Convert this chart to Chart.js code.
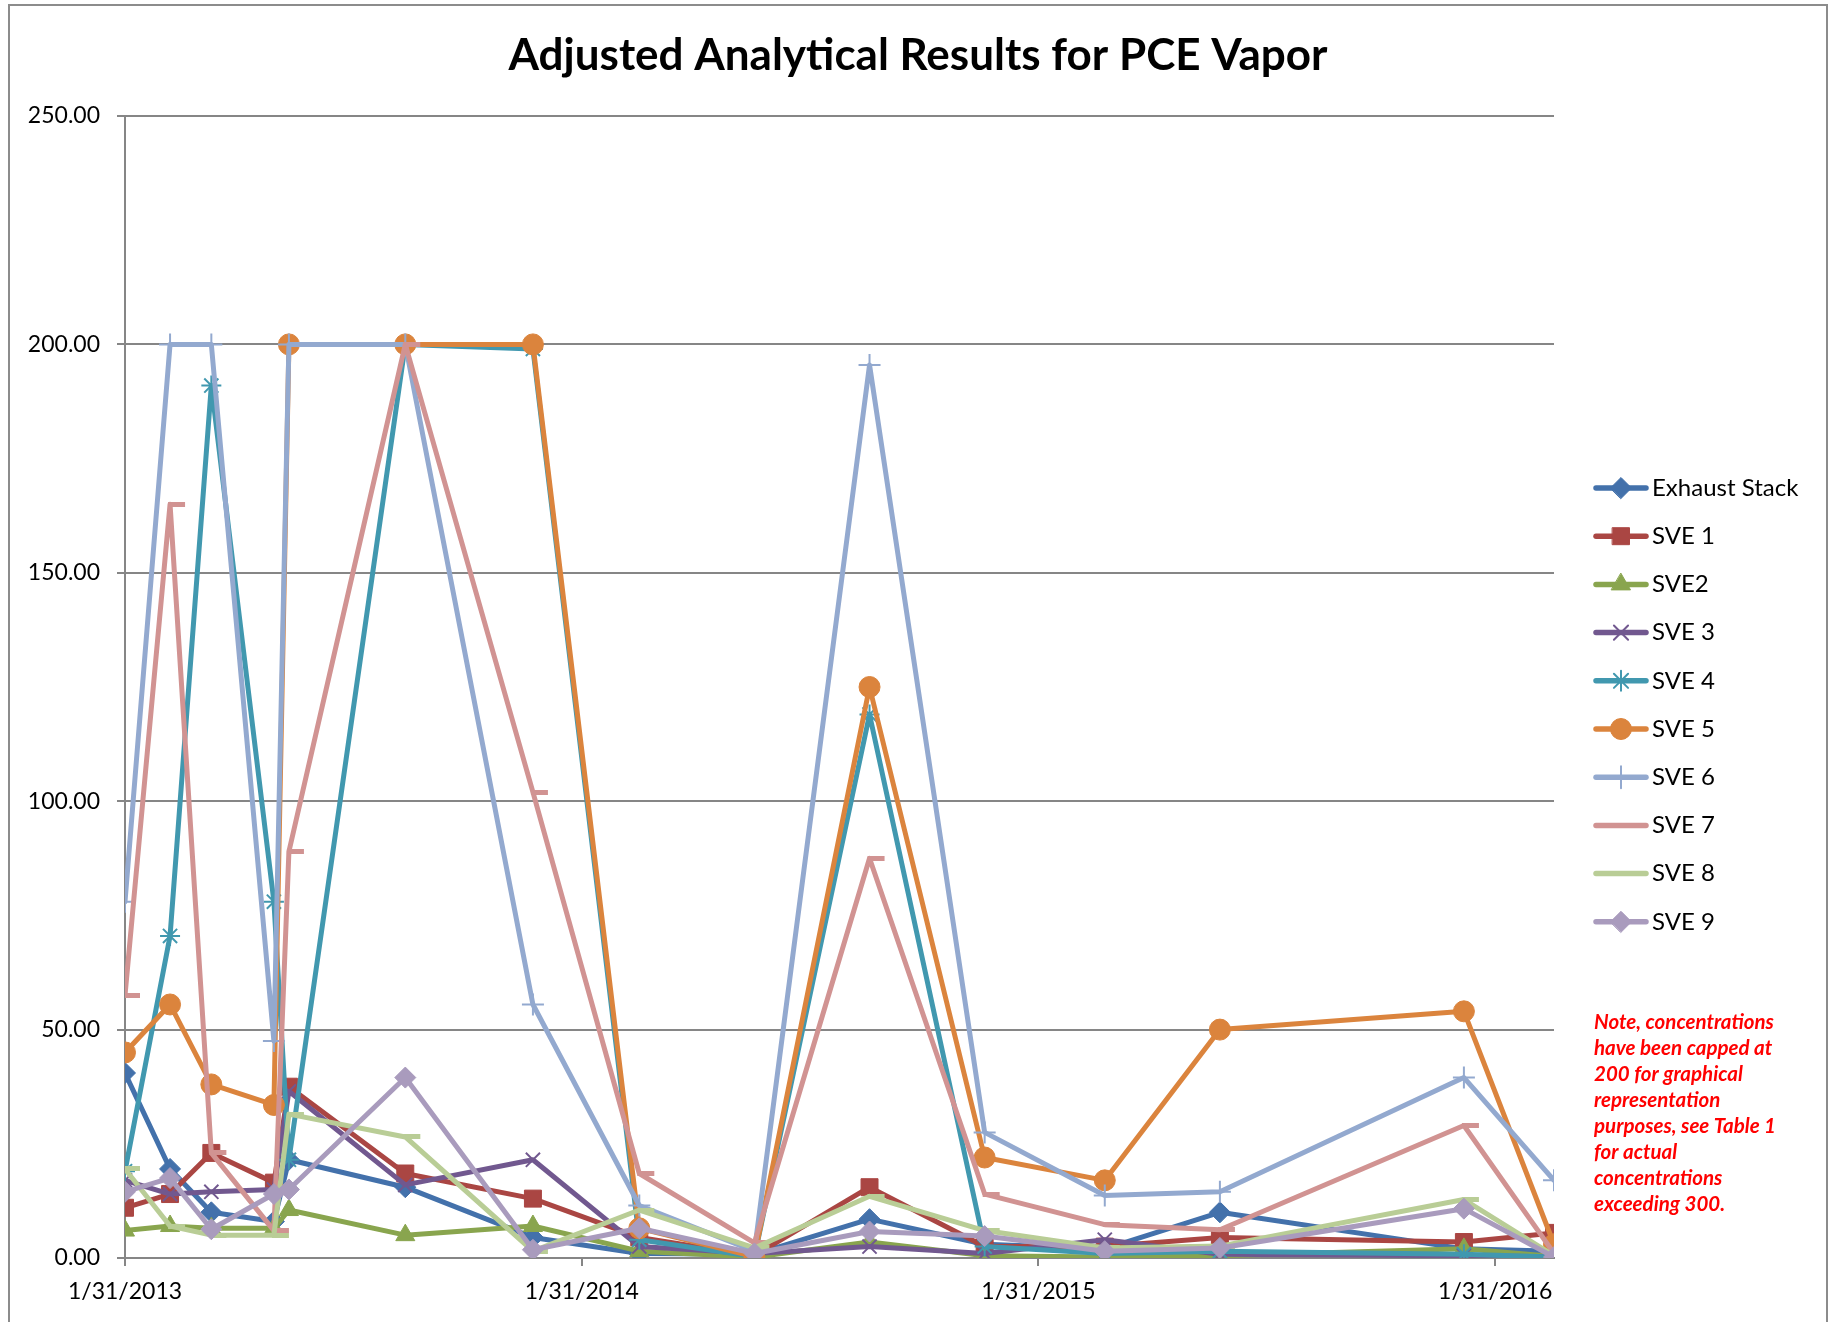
<!DOCTYPE html>
<html>
<head>
<meta charset="utf-8">
<title>Adjusted Analytical Results for PCE Vapor</title>
<script src="https://cdn.jsdelivr.net/npm/chart.js@4.4.1/dist/chart.umd.min.js"></script>
<style>
  html, body { margin: 0; padding: 0; background: #fff; }
  #wrap { position: relative; width: 1836px; height: 1322px; }
</style>
</head>
<body>
<div id="wrap"><canvas id="pceChart"></canvas></div>
<script>
// Sampling dates and axis labels
const sampleDates = ['1/31/2013', '3/8/2013', '4/10/2013', '5/30/2013', '6/11/2013', '9/12/2013', '12/23/2013',
  '3/18/2014', '6/18/2014', '9/18/2014', '12/19/2014', '3/25/2015', '6/25/2015', '1/6/2016', '3/18/2016'];
const xTickLabels = ['1/31/2013', '1/31/2014', '1/31/2015', '1/31/2016'];
const yTicks = [0, 50, 100, 150, 200, 250];

// PCE vapor results (capped at 200)
const exhaustStack = [40.5, 19.5, 10, 8, 21.5, 15.5, 4.5, 1, 0.8, 8.5, 3, 2, 10, 2, 1.5];
const sve1 = [11, 14, 23, 16.5, 37.5, 18.5, 13, 4.5, 0.5, 15.5, 2.5, 2.5, 4.5, 3.5, 5.5];
const sve2 = [6, 7, 6.5, 6.5, 10.5, 5, 7, 1.5, 0.2, 3.5, 0.5, 0.2, 0.5, 2, 0.3];
const sve3 = [17, 14, 14.5, 15, 36.5, 16, 21.5, 2.5, 1, 2.5, 1, 4, 0.8, 0.5, 0.3];
const sve4 = [19, 70.5, 191, 78, 21.5, 200, 199, 4, 0.3, 119, 2.5, 1, 1.5, 0.8, 0.2];
const sve5 = [45, 55.5, 38, 33.5, 200, 200, 200, 6.5, 0.3, 125, 22, 17, 50, 54, 3];
const sve6 = [78, 200, 200, 47.5, 200, 200, 55.5, 11.5, 1.5, 195.5, 27.5, 13.7, 14.5, 39.5, 17];
const sve7 = [57.5, 165, 23, 6, 89, 200, 102, 18.5, 3.3, 87.5, 14, 7.3, 6.2, 29, 1];
const sve8 = [19.5, 7, 5, 5, 31.5, 26.5, 1.5, 10.5, 2.2, 13.5, 6, 2.2, 2.6, 12.8, 0.5];
const sve9 = [14.5, 17.5, 6.3, 14, 15, 39.5, 1.8, 6.5, 1, 5.8, 4.8, 1.5, 2.2, 10.8, 0.2];

const seriesNames = ['Exhaust Stack', 'SVE 1', 'SVE2', 'SVE 3', 'SVE 4', 'SVE 5', 'SVE 6', 'SVE 7', 'SVE 8', 'SVE 9'];
const seriesValues = [exhaustStack, sve1, sve2, sve3, sve4, sve5, sve6, sve7, sve8, sve9];

const chartTitle = 'Adjusted Analytical Results for PCE Vapor';
const noteLines = ['Note, concentrations', 'have been capped at', '200 for graphical', 'representation',
  'purposes, see Table 1', 'for actual', 'concentrations', 'exceeding 300.'];

// Excel-like short dash marker (sits to the right of the point)
function dashMarker(color) {
  const c = document.createElement('canvas');
  c.width = 36;
  c.height = 5;
  const g = c.getContext('2d');
  g.fillStyle = color;
  g.fillRect(16, 0, 17, 5);
  return c;
}

const seriesStyles = [
  { color: '#4371AB', point: 'rectRot', radius: 10.5, bw: 1 },
  { color: '#AA4643', point: 'rect', radius: 12, bw: 1 },
  { color: '#89A54E', point: 'triangle', radius: 11, bw: 1 },
  { color: '#71588F', point: 'crossRot', radius: 10, bw: 2 },
  { color: '#4198AF', point: 'star', radius: 10, bw: 2 },
  { color: '#DB843D', point: 'circle', radius: 10.5, bw: 1 },
  { color: '#93A9CF', point: 'cross', radius: 11, bw: 2 },
  { color: '#D19392', point: dashMarker('#D19392'), radius: 10, bw: 0 },
  { color: '#B9CD96', point: dashMarker('#B9CD96'), radius: 10, bw: 0 },
  { color: '#A99BBD', point: 'rectRot', radius: 10.5, bw: 1 }
];

function toDay(s) {
  const [m, d, y] = s.split('/').map(Number);
  return Date.UTC(y, m - 1, d) / 86400000;
}
const day0 = toDay(sampleDates[0]);
const xDays = sampleDates.map(s => toDay(s) - day0);
const xTickDays = xTickLabels.map(s => toDay(s) - day0);

const gridGray = '#868686';
const fontFamily = 'Lato, "Open Sans", sans-serif';

const datasets = seriesNames.map((name, i) => {
  const st = seriesStyles[i];
  return {
    label: name,
    data: seriesValues[i].map((v, j) => ({ x: xDays[j], y: v })),
    borderColor: st.color,
    backgroundColor: st.color,
    borderWidth: 5,
    borderJoinStyle: 'round',
    borderCapStyle: 'round',
    tension: 0,
    pointStyle: st.point,
    pointRadius: st.radius,
    pointBackgroundColor: st.color,
    pointBorderColor: st.color,
    pointBorderWidth: st.bw,
    order: seriesNames.length - i
  };
});

// frame, title, side legend and note
const decorations = {
  id: 'decorations',
  beforeDraw(chart) {
    const ctx = chart.ctx;
    ctx.save();
    ctx.fillStyle = '#fff';
    ctx.fillRect(0, 0, chart.width, chart.height);
    ctx.strokeStyle = '#8c8c8c';
    ctx.lineWidth = 2;
    ctx.strokeRect(9, 5, chart.width - 18, chart.height + 20);
    ctx.fillStyle = '#000';
    ctx.font = 'bold 44px ' + fontFamily;
    ctx.textAlign = 'center';
    ctx.textBaseline = 'middle';
    ctx.fillText(chartTitle, chart.width / 2, 56);
    ctx.restore();
  },
  afterDraw(chart) {
    const { ctx, chartArea } = chart;
    const x0 = chartArea.right + 42;
    const step = 48.2;
    ctx.save();
    chart.data.datasets.forEach((ds, i) => {
      const y = chartArea.top + 372 + i * step;
      ctx.strokeStyle = ds.borderColor;
      ctx.lineWidth = 5.5;
      ctx.lineCap = 'round';
      ctx.beginPath();
      ctx.moveTo(x0, y);
      ctx.lineTo(x0 + 50, y);
      ctx.stroke();
      ctx.fillStyle = ds.pointBackgroundColor;
      ctx.strokeStyle = ds.pointBorderColor;
      ctx.lineWidth = ds.pointBorderWidth;
      Chart.helpers.drawPoint(ctx, {
        pointStyle: ds.pointStyle,
        radius: ds.pointRadius,
        borderWidth: ds.pointBorderWidth,
        rotation: 0
      }, x0 + 25, y);
      ctx.fillStyle = '#000';
      ctx.font = '24px ' + fontFamily;
      ctx.textAlign = 'left';
      ctx.textBaseline = 'middle';
      ctx.fillText(ds.label, x0 + 56, y);
    });

    ctx.fillStyle = '#FF0000';
    ctx.font = 'italic bold 20.5px ' + fontFamily;
    ctx.textAlign = 'left';
    ctx.textBaseline = 'middle';
    noteLines.forEach((line, i) => {
      ctx.fillText(line, chartArea.right + 40, chartArea.top + 906 + i * 26.1);
    });
    ctx.restore();
  }
};

new Chart(document.getElementById('pceChart'), {
  type: 'line',
  data: { datasets },
  options: {
    responsive: true,
    maintainAspectRatio: false,
    animation: false,
    devicePixelRatio: 1,
    layout: { padding: { top: 116, right: 282, bottom: 0, left: 0 } },
    plugins: {
      legend: { display: false },
      title: { display: false },
      tooltip: { enabled: false }
    },
    scales: {
      x: {
        type: 'linear',
        min: 0,
        max: xDays[xDays.length - 1],
        afterBuildTicks: scale => {
          scale.ticks = xTickDays.map(v => ({ value: v }));
        },
        afterFit: scale => { scale.height = 64; },
        grid: {
          drawOnChartArea: false,
          color: gridGray,
          lineWidth: 2,
          tickLength: 8
        },
        border: { display: true, color: gridGray, width: 2, dash: [8, 5] },
        ticks: {
          autoSkip: false,
          maxRotation: 0,
          padding: 12,
          color: '#000',
          font: { family: fontFamily, size: 23 },
          callback: (value, index) => xTickLabels[index]
        }
      },
      y: {
        min: 0,
        max: 250,
        afterBuildTicks: scale => {
          scale.ticks = yTicks.map(v => ({ value: v }));
        },
        afterFit: scale => { scale.width = 125; },
        grid: {
          color: c => (c.tick && c.tick.value === 0 ? 'rgba(0,0,0,0)' : gridGray),
          tickColor: gridGray,
          lineWidth: 2,
          tickLength: 8
        },
        border: { display: true, color: gridGray, width: 2 },
        ticks: {
          padding: 17,
          color: '#000',
          font: { family: fontFamily, size: 23 },
          callback: value => Number(value).toFixed(2)
        }
      }
    }
  },
  plugins: [decorations]
});
</script>
</body>
</html>
